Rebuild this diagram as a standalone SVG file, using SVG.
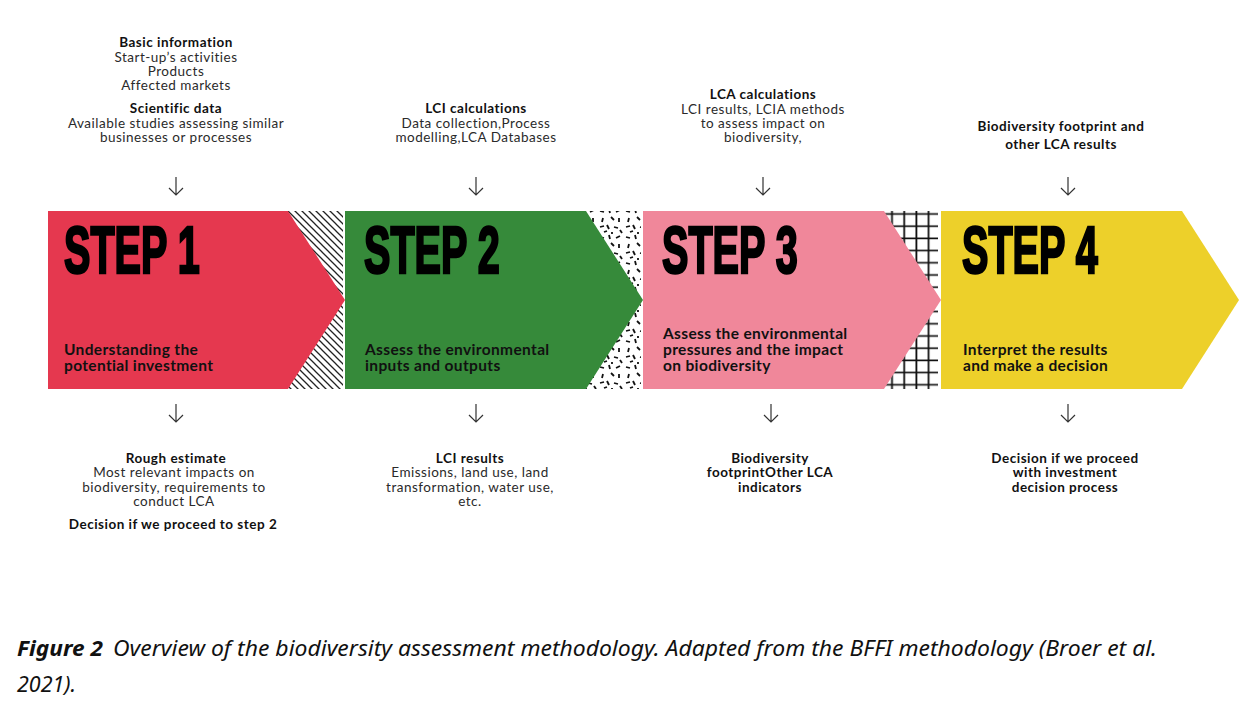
<svg xmlns="http://www.w3.org/2000/svg" width="1260" height="718" viewBox="0 0 1260 718">
<defs>
<style>
.t{font-family:"Lato","Liberation Sans",sans-serif;font-size:13.5px;fill:#2a2a2a;text-anchor:middle;letter-spacing:0.5px}
.b{font-weight:bold;fill:#111}
.lab{font-family:"Lato","Liberation Sans",sans-serif;font-size:15.5px;font-weight:bold;fill:#111;letter-spacing:0.35px}
.step{font-family:"Liberation Sans",sans-serif;font-weight:bold;font-size:66px;fill:#000;stroke:#000;stroke-width:2.6}
.arr{fill:none;stroke:#333;stroke-width:1.2}
.cap{font-family:"Noto Sans","Liberation Sans",sans-serif;font-style:italic;font-size:22px;fill:#111}
</style>
<pattern id="hatch" patternUnits="userSpaceOnUse" width="7" height="7">
<rect width="7" height="7" fill="#fff"/>
<path d="M-1,-1 L8,8 M-1,6 L1,8 M6,-1 L8,1" stroke="#222" stroke-width="1.3"/>
</pattern>
<pattern id="dash" patternUnits="userSpaceOnUse" width="26" height="26">
<rect width="26" height="26" fill="#fff"/>
<g stroke="#111" stroke-width="1.8" stroke-linecap="butt">
<path d="M2,3 l4,1"/><path d="M11,1 l1,4"/><path d="M18,4 l4,-2"/><path d="M5,10 l-1,4"/>
<path d="M13,9 l3,3"/><path d="M21,10 l0,4"/><path d="M2,19 l4,-1"/><path d="M9,17 l2,4"/>
<path d="M16,19 l4,1"/><path d="M22,22 l2,3"/><path d="M6,24 l3,-1"/><path d="M14,24 l0,2"/>
</g>
</pattern>
<pattern id="grid" patternUnits="userSpaceOnUse" x="886" y="208" width="12.2" height="12.2">
<rect width="12.2" height="12.2" fill="#fff"/>
<path d="M6,0 V12.2 M0,6 H12.2" stroke="#111" stroke-width="1.8"/>
</pattern>
</defs>

<g id="patterns">
<rect x="288" y="211" width="55" height="178" fill="url(#hatch)"/>
<rect x="586" y="211" width="55" height="178" fill="url(#dash)"/>
<rect x="884" y="211" width="54" height="178" fill="url(#grid)"/>
</g>

<g id="step1">
<polygon points="48,211 288,211 345,300 288,389 48,389" fill="#E5384F"/>
<text class="step" transform="translate(64,273) scale(0.6,1)">STEP 1</text>
<text class="lab" x="64" y="355">Understanding the</text>
<text class="lab" x="64" y="371">potential investment</text>
</g>
<g id="step2">
<polygon points="345,211 586,211 643,300 586,389 345,389" fill="#368A3A"/>
<text class="step" transform="translate(364,273) scale(0.6,1)">STEP 2</text>
<text class="lab" x="365" y="355">Assess the environmental</text>
<text class="lab" x="365" y="371">inputs and outputs</text>
</g>
<g id="step3">
<polygon points="643,211 884,211 941,300 884,389 643,389" fill="#F0879A"/>
<text class="step" transform="translate(662,273) scale(0.6,1)">STEP 3</text>
<text class="lab" x="663" y="339">Assess the environmental</text>
<text class="lab" x="663" y="355">pressures and the impact</text>
<text class="lab" x="663" y="371">on biodiversity</text>
</g>
<g id="step4">
<polygon points="941,211 1182,211 1239,300 1182,389 941,389" fill="#EDD02A"/>
<text class="step" transform="translate(962,273) scale(0.6,1)">STEP 4</text>
<text class="lab" x="963" y="355">Interpret the results</text>
<text class="lab" x="963" y="371">and make a decision</text>
</g>

<g id="top1">
<text class="t b" x="176" y="47">Basic information</text>
<text class="t" x="176" y="62">Start-up’s activities</text>
<text class="t" x="176" y="76">Products</text>
<text class="t" x="176" y="90">Affected markets</text>
<text class="t b" x="176" y="113">Scientific data</text>
<text class="t" x="176" y="128">Available studies assessing similar</text>
<text class="t" x="176" y="142">businesses or processes</text>
</g>
<g id="top2">
<text class="t b" x="476" y="113">LCI calculations</text>
<text class="t" x="476" y="128">Data collection,Process</text>
<text class="t" x="476" y="142">modelling,LCA Databases</text>
</g>
<g id="top3">
<text class="t b" x="763" y="99">LCA calculations</text>
<text class="t" x="763" y="114">LCI results, LCIA methods</text>
<text class="t" x="763" y="128">to assess impact on</text>
<text class="t" x="763" y="142">biodiversity,</text>
</g>
<g id="top4">
<text class="t b" x="1061" y="131">Biodiversity footprint and</text>
<text class="t b" x="1061" y="149">other LCA results</text>
</g>

<g id="bottom1">
<text class="t b" x="176" y="463">Rough estimate</text>
<text class="t" x="174" y="477">Most relevant impacts on</text>
<text class="t" x="174" y="492">biodiversity, requirements to</text>
<text class="t" x="174" y="506">conduct LCA</text>
<text class="t b" x="173" y="529">Decision if we proceed to step 2</text>
</g>
<g id="bottom2">
<text class="t b" x="470" y="463">LCI results</text>
<text class="t" x="470" y="477">Emissions, land use, land</text>
<text class="t" x="470" y="492">transformation, water use,</text>
<text class="t" x="470" y="506">etc.</text>
</g>
<g id="bottom3">
<text class="t b" x="770" y="463">Biodiversity</text>
<text class="t b" x="770" y="477">footprintOther LCA</text>
<text class="t b" x="770" y="492">indicators</text>
</g>
<g id="bottom4">
<text class="t b" x="1065" y="463">Decision if we proceed</text>
<text class="t b" x="1065" y="477">with investment</text>
<text class="t b" x="1065" y="492">decision process</text>
</g>

<g id="connectors">
<path class="arr" d="M176,177 V195 M169,188 L176,195 L183,188"/>
<path class="arr" d="M476,177 V195 M469,188 L476,195 L483,188"/>
<path class="arr" d="M763,177 V195 M756,188 L763,195 L770,188"/>
<path class="arr" d="M1068,177 V195 M1061,188 L1068,195 L1075,188"/>
<path class="arr" d="M176,404 V422 M169,415 L176,422 L183,415"/>
<path class="arr" d="M476,404 V422 M469,415 L476,422 L483,415"/>
<path class="arr" d="M771,404 V422 M764,415 L771,422 L778,415"/>
<path class="arr" d="M1068,404 V422 M1061,415 L1068,422 L1075,415"/>
</g>

<g id="caption">
<text class="cap" x="17" y="656" font-weight="bold" textLength="86" lengthAdjust="spacingAndGlyphs">Figure 2</text>
<text class="cap" x="113" y="656" textLength="1044" lengthAdjust="spacingAndGlyphs">Overview of the biodiversity assessment methodology. Adapted from the BFFI methodology (Broer et al.</text>
<text class="cap" x="17" y="692" textLength="59" lengthAdjust="spacingAndGlyphs">2021).</text>
</g>
</svg>
